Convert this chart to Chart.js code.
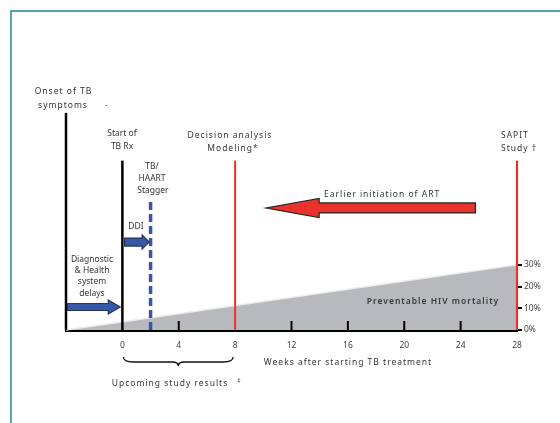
<!DOCTYPE html>
<html>
<head>
<meta charset="utf-8">
<script src="https://cdn.jsdelivr.net/npm/chart.js@4.4.0/dist/chart.umd.min.js"></script>
<style>
  html, body { margin: 0; padding: 0; background: #fff; }
  #wrap { position: relative; width: 560px; height: 423px; overflow: hidden; }
  #frame { position: absolute; left: 10px; top: 10px; right: -4px; bottom: -4px;
           border-left: 2px solid #58a3b3; border-top: 2px solid #58a3b3; }
  canvas { position: absolute; left: 0; top: 0; }
</style>
</head>
<body>
<div id="wrap">
  <div id="frame"></div>
  <canvas id="chart" width="560" height="423"></canvas>
</div>
<script>
// weeks relative to start of TB treatment
const weekTicks = [-4, 0, 4, 8, 12, 16, 20, 24, 28];
const mortalityTicks = [0, 10, 20, 30];

// preventable HIV mortality rises from onset of symptoms to week 28
const mortalityWeeks = [-4, 28];
const mortalityPct = [0, 30];

// vertical markers: onset, start TB Rx, TB/HAART stagger, decision analysis, SAPIT
const markerWeeks = [-4, 0, 2, 8, 28];
const markerTops = [100, 78, 59, 78, 78];

// arrows: diagnostic delays, DDI, earlier initiation of ART
const arrowFrom = [-3.9, 0.15, 25.05];
const arrowTo = [-0.15, 1.9, 10.2];
const arrowLevel = [10.6, 40.5, 56.2];

const FONT = "'Noto Sans', sans-serif";
const TEXT = '#333';
const RED = '#e8322b';
const BLUE = '#3758a8';

function label(ctx, str, x, y, opt = {}) {
  const { size = 8.5, align = 'center', spacing = 0, weight = 'normal', color = TEXT } = opt;
  ctx.font = `${weight} ${size}px ${FONT}`;
  ctx.letterSpacing = spacing + 'px';
  ctx.fillStyle = color;
  ctx.textAlign = align;
  ctx.textBaseline = 'middle';
  ctx.fillText(str, x, y);
}

function arrow(ctx, x0, x1, yc, shaft, head, headLen, fill, stroke) {
  const dir = x1 > x0 ? 1 : -1;
  const xb = x1 - dir * headLen;
  ctx.beginPath();
  ctx.moveTo(x0, yc - shaft / 2);
  ctx.lineTo(xb, yc - shaft / 2);
  ctx.lineTo(xb, yc - head / 2);
  ctx.lineTo(x1, yc);
  ctx.lineTo(xb, yc + head / 2);
  ctx.lineTo(xb, yc + shaft / 2);
  ctx.lineTo(x0, yc + shaft / 2);
  ctx.closePath();
  ctx.fillStyle = fill;
  ctx.fill();
  ctx.lineWidth = 1.2;
  ctx.strokeStyle = stroke;
  ctx.stroke();
}

const annotations = {
  id: 'annotations',
  afterDatasetsDraw(chart) {
    const { ctx, scales: { x, y } } = chart;
    ctx.save();

    // small upward tick marks on the week axis
    ctx.strokeStyle = '#000';
    ctx.lineWidth = 2;
    weekTicks.filter(w => !markerWeeks.includes(w)).forEach(w => {
      const px = x.getPixelForValue(w);
      ctx.beginPath();
      ctx.moveTo(px, y.bottom);
      ctx.lineTo(px, y.bottom - 9);
      ctx.stroke();
    });

    // arrows
    const shapes = [
      { shaft: 7, head: 14, len: 12, fill: BLUE, stroke: '#24345e' },
      { shaft: 8, head: 14, len: 7, fill: BLUE, stroke: '#24345e' },
      { shaft: 10, head: 19, len: 53, fill: RED, stroke: '#222' }
    ];
    arrowFrom.forEach((from, i) => {
      const s = shapes[i];
      arrow(ctx, x.getPixelForValue(from), x.getPixelForValue(arrowTo[i]),
        y.getPixelForValue(arrowLevel[i]), s.shaft, s.head, s.len, s.fill, s.stroke);
    });

    // brace under weeks 0-8
    const bx0 = x.getPixelForValue(0) + 1, bx1 = x.getPixelForValue(8) - 2;
    const bm = (bx0 + bx1) / 2, bt = 357, bb = 362;
    ctx.strokeStyle = '#111';
    ctx.lineWidth = 1.3;
    ctx.beginPath();
    ctx.moveTo(bx0, bt);
    ctx.quadraticCurveTo(bx0, bb, bx0 + 10, bb);
    ctx.lineTo(bm - 6, bb);
    ctx.quadraticCurveTo(bm, bb, bm, bb + 4);
    ctx.quadraticCurveTo(bm, bb, bm + 6, bb);
    ctx.lineTo(bx1 - 10, bb);
    ctx.quadraticCurveTo(bx1, bb, bx1, bt);
    ctx.stroke();

    // texts
    label(ctx, 'Onset of TB', 63.5, 92, { spacing: 1 });
    label(ctx, 'symptoms', 63, 106, { spacing: 1 });
    label(ctx, '-', 106, 106, { color: BLUE });
    label(ctx, 'Start of', 122, 134);
    label(ctx, 'TB Rx', 122, 147);
    label(ctx, 'TB/', 152, 167);
    label(ctx, 'HAART', 152, 179);
    label(ctx, 'Stagger', 153, 191);
    label(ctx, 'DDI', 136, 227);
    label(ctx, 'Diagnostic', 92, 260);
    label(ctx, '& Health', 92, 271);
    label(ctx, 'system', 92, 282);
    label(ctx, 'delays', 92, 294);
    label(ctx, 'Decision analysis', 230, 136, { spacing: 1 });
    label(ctx, 'Modeling*', 233, 149, { spacing: 1 });
    label(ctx, 'SAPIT', 501, 136, { spacing: 1, align: 'left' });
    label(ctx, 'Study \u2020', 501, 149, { spacing: 1, align: 'left' });
    label(ctx, 'Earlier initiation of ART', 324, 195, { spacing: 1, align: 'left' });
    label(ctx, 'Preventable HIV mortality', 433, 302, { spacing: 1, weight: '600', color: '#3a3a3a' });
    label(ctx, 'Weeks after starting TB treatment', 348, 363, { spacing: 1 });
    label(ctx, 'Upcoming study results', 170, 384, { spacing: 1 });
    label(ctx, '\u2021', 239, 381, { size: 6.5 });

    ctx.restore();
  }
};

const markerStyles = [
  { color: '#000', width: 2.5, dash: [] },
  { color: '#000', width: 2.5, dash: [] },
  { color: BLUE, width: 3.5, dash: [8, 4] },
  { color: RED, width: 2, dash: [] },
  { color: RED, width: 2.2, dash: [] }
];

const datasets = [{
  label: 'Preventable HIV mortality',
  data: mortalityWeeks.map((w, i) => ({ x: w, y: mortalityPct[i] })),
  showLine: true,
  fill: 'origin',
  backgroundColor: '#b8b9bc',
  borderColor: '#ececec',
  borderWidth: 1.5,
  pointRadius: 0,
  order: 10,
  clip: false
}];

markerWeeks.forEach((w, i) => {
  const s = markerStyles[i];
  datasets.push({
    label: 'marker ' + w,
    data: [{ x: w, y: 0 }, { x: w, y: markerTops[i] }],
    showLine: true,
    fill: false,
    borderColor: s.color,
    borderWidth: s.width,
    borderDash: s.dash,
    borderCapStyle: 'butt',
    pointRadius: 0,
    order: 5 - i,
    clip: false
  });
});

new Chart(document.getElementById('chart'), {
  type: 'scatter',
  data: { datasets },
  options: {
    responsive: false,
    animation: false,
    events: [],
    layout: { padding: { left: 66, right: 0, top: 26, bottom: 63 } },
    plugins: {
      legend: { display: false },
      tooltip: { enabled: false },
      title: { display: false }
    },
    scales: {
      x: {
        type: 'linear',
        min: -4,
        max: 28,
        afterFit: s => { s.height = 30; },
        afterBuildTicks: s => { s.ticks = weekTicks.map(v => ({ value: v })); },
        grid: { display: false, drawTicks: false },
        border: { display: true, color: '#000', width: 3 },
        ticks: {
          padding: 10,
          color: '#444',
          font: { family: FONT, size: 8.5 },
          callback: v => (v < 0 ? '' : v)
        }
      },
      y: {
        type: 'linear',
        position: 'right',
        min: 0,
        max: 140,
        afterFit: s => { s.width = 43; },
        afterBuildTicks: s => { s.ticks = mortalityTicks.map(v => ({ value: v })); },
        grid: { display: true, drawOnChartArea: false, drawTicks: true, tickLength: 5,
                color: '#000', lineWidth: 2 },
        border: { display: false },
        ticks: {
          padding: 2,
          color: '#444',
          font: { family: FONT, size: 8.5 },
          callback: v => v + '%'
        }
      }
    }
  },
  plugins: [annotations]
});
</script>
</body>
</html>
